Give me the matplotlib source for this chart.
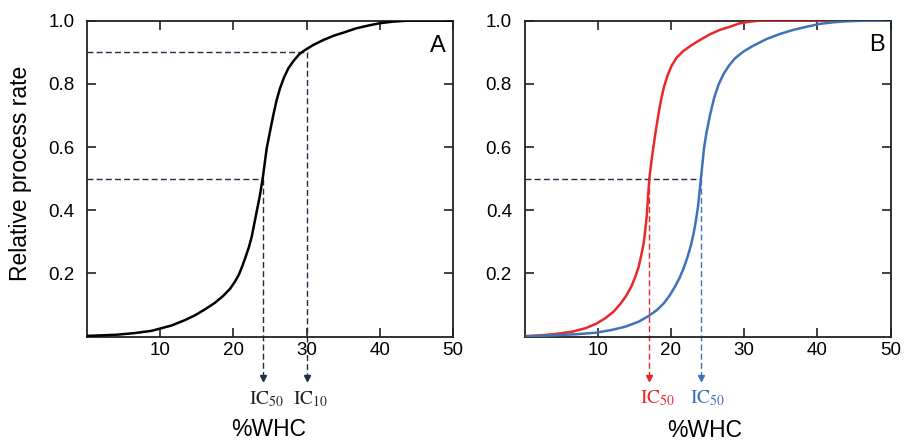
import matplotlib
matplotlib.use("Agg")
import matplotlib.pyplot as plt

plt.rcParams['font.family'] = ['Liberation Sans', 'DejaVu Sans']
plt.rcParams['mathtext.fontset'] = 'stix'

# ---- data ----
whc_a = [0.0, 2.46, 4.28, 6.56, 8.84, 11.57, 13.39, 14.75, 16.12, 17.49, 18.62, 19.54,
         20.22, 20.77, 21.22, 21.68, 22.13, 22.5, 22.86, 23.22, 23.59, 24.0,
         24.55, 25.0, 25.45, 25.91, 26.37, 26.91, 27.5, 28.19, 29.0, 29.78,
         30.9, 32.3, 33.65, 35.0, 36.8, 38.7, 40.0, 41.8, 43.7, 50.0]
rate_a = [0.002, 0.004, 0.006, 0.011, 0.018, 0.035, 0.052, 0.067, 0.086, 0.107, 0.129, 0.151,
          0.174, 0.197, 0.223, 0.253, 0.284, 0.316, 0.358, 0.40, 0.443, 0.50,
          0.596, 0.649, 0.701, 0.749, 0.786, 0.82, 0.849, 0.872, 0.894, 0.907,
          0.923, 0.939, 0.952, 0.962, 0.976, 0.986, 0.992, 0.997, 1.0, 1.0]

whc_red = [0.0, 2.39, 4.21, 6.49, 8.31, 9.77, 11.04, 12.18, 13.09, 13.87, 14.59, 15.14,
           15.6, 15.96, 16.28, 16.5, 16.73, 17.05, 17.37, 17.6, 17.92, 18.28,
           18.65, 19.06, 19.56, 20.11, 20.79, 21.7, 22.84, 23.98, 25.34, 26.7, 28.07,
           29.44, 30.8, 32.2, 50.0]
rate_red = [0.001, 0.004, 0.008, 0.015, 0.026, 0.04, 0.058, 0.079, 0.103, 0.128, 0.158, 0.189,
            0.221, 0.258, 0.295, 0.337, 0.39, 0.50, 0.56, 0.598, 0.649, 0.701,
            0.749, 0.791, 0.828, 0.858, 0.883, 0.904, 0.923, 0.939, 0.957, 0.971, 0.981,
            0.992, 0.997, 1.0, 1.0]

whc_blue = [0.0, 4.21, 6.94, 9.77, 11.95, 13.77, 15.6, 16.97, 18.1, 19.02, 19.78, 20.51,
            21.15, 21.74, 22.29, 22.75, 23.11, 23.43, 23.7, 24.1, 24.52,
            24.89, 25.34, 25.89, 26.48, 27.16, 27.94, 28.76, 29.89, 31.26, 33.08, 34.9,
            36.72, 38.55, 40.37, 42.19, 44.0, 46.3, 50.0]
rate_blue = [0.0, 0.004, 0.007, 0.012, 0.021, 0.031, 0.047, 0.065, 0.084, 0.105, 0.128, 0.156,
             0.184, 0.216, 0.253, 0.29, 0.327, 0.369, 0.411, 0.50, 0.596,
             0.649, 0.701, 0.754, 0.796, 0.83, 0.858, 0.881, 0.902, 0.921, 0.942, 0.958,
             0.971, 0.981, 0.99, 0.995, 0.998, 1.0, 1.0]

ic50_a, ic10_a = 24.0, 30.0
ic50_red, ic50_blue = 17.05, 24.1
xticks = [10, 20, 30, 40, 50]
yticks = [0.2, 0.4, 0.6, 0.8, 1.0]
ytick_labels = ['0.2', '0.4', '0.6', '0.8', '1.0']

dark = '#1c2f45'
red = '#e8282b'
blue = '#3f72b9'

fig = plt.figure(figsize=(9.05, 4.42), dpi=100)
axA = fig.add_axes([87 / 905, 105.5 / 442, 366 / 905, 315.8 / 442])
axB = fig.add_axes([524.5 / 905, 105.5 / 442, 366 / 905, 315.8 / 442])

for ax in (axA, axB):
    ax.set_xlim(0, 50)
    ax.set_ylim(0, 1)
    ax.set_xticks(xticks)
    ax.set_yticks(yticks)
    ax.set_yticklabels(ytick_labels)
    ax.tick_params(direction='in', top=True, right=True, length=6.5, width=1.2,
                   labelsize=13.5, color='#222222')
    ax.tick_params(axis='x', pad=4)
    ax.tick_params(axis='y', pad=9)
    for s in ax.spines.values():
        s.set_linewidth(1.3)
        s.set_color('#222222')
    ax.set_xlabel('%WHC', fontsize=16.5, va='center')

axA.xaxis.set_label_coords(0.495, -0.293)
axB.xaxis.set_label_coords(0.493, -0.298)

dash = dict(lw=1.0, dashes=(4.3, 2.3))
y_end = -0.122

# Panel A
axA.plot(whc_a, rate_a, color='black', lw=1.8, solid_joinstyle='round', zorder=3)
axA.plot([0, ic50_a], [0.5, 0.5], color=dark, **dash, zorder=2)
axA.plot([0, ic10_a], [0.9, 0.9], color=dark, **dash, zorder=2)
for xv, yv in ((ic50_a, 0.5), (ic10_a, 0.9)):
    axA.plot([xv, xv], [yv, y_end], color=dark, clip_on=False, **dash, zorder=2)
    axA.plot([xv], [y_end - 0.008], marker='v', ms=4, color=dark, clip_on=False, zorder=2)
axA.text(24.5, -0.214, r'$\mathrm{IC}_{50}$', ha='center', va='baseline', fontsize=14, color='#222222')
axA.text(30.6, -0.214, r'$\mathrm{IC}_{10}$', ha='center', va='baseline', fontsize=14, color='#222222')
axA.text(0.959, 0.92, 'A', transform=axA.transAxes, ha='center', va='center', fontsize=17)

# Panel B
axB.plot(whc_red, rate_red, color=red, lw=1.8, solid_joinstyle='round', zorder=3)
axB.plot(whc_blue, rate_blue, color=blue, lw=1.8, solid_joinstyle='round', zorder=3)
axB.plot([0, ic50_blue], [0.5, 0.5], color=dark, **dash, zorder=2)
for xv, c in ((ic50_red, red), (ic50_blue, blue)):
    axB.plot([xv, xv], [0.5, y_end], color=c, clip_on=False, **dash, zorder=2)
    axB.plot([xv], [y_end - 0.008], marker='v', ms=4, color=c, clip_on=False, zorder=2)
axB.text(18.2, -0.21, r'$\mathrm{IC}_{50}$', ha='center', va='baseline', fontsize=14, color=red)
axB.text(25.0, -0.21, r'$\mathrm{IC}_{50}$', ha='center', va='baseline', fontsize=14, color=blue)
axB.text(0.963, 0.923, 'B', transform=axB.transAxes, ha='center', va='center', fontsize=17)

fig.text(21 / 905, 1 - 173 / 442, 'Relative process rate', rotation=90,
         ha='center', va='center', fontsize=16.5)

fig.savefig('out.png', dpi=100)
